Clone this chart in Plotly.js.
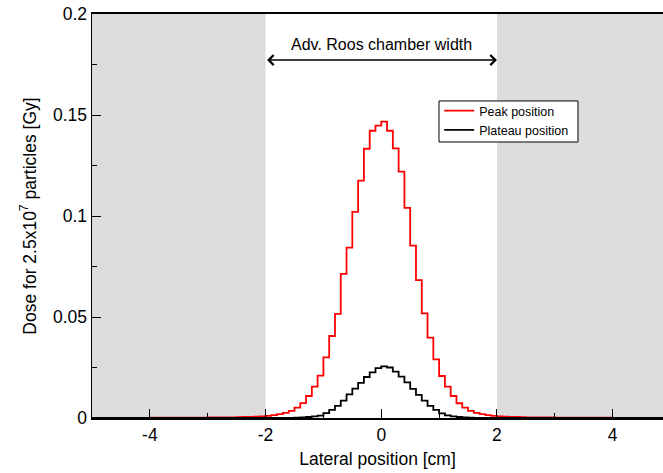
<!DOCTYPE html>
<html>
<head>
<meta charset="utf-8">
<script src="https://cdn.plot.ly/plotly-3.0.1.min.js"></script>
<style>html,body{margin:0;padding:0;background:#fff;}#chart{width:663px;height:473px;}</style>
</head>
<body>
<div id="chart"></div>
<script>
// Histogram binning (cm)
const binStart = -5.0;
const binWidth = 0.1;
const chamberEdges = [-2, 2];

// Tick labels (hyphen minus as in the reference)
const xTickVals = [-4, -2, 0, 2, 4];
const xTickText = ["-4", "-2", "0", "2", "4"];

// Dose per 0.1 cm bin, from x = -5.0 to 5.0 (left edges -5.0 ... 4.9)
const peakDose = [
  0.0001,0.0001,0.0001,0.0001,0.0001,0.0001,0.0001,0.0001,0.0001,0.0001,
  0.0002,0.0002,0.0002,0.0002,0.0002,0.0002,0.0002,0.0002,0.0002,0.0002,
  0.0003,0.0003,0.0003,0.0003,0.0003,0.0004,0.0005,0.0006,0.0007,0.0008,
  0.0011,0.0014,0.0019,0.0025,0.0035,0.0051,0.0074,0.0109,0.0155,0.0210,
  0.0300,0.0406,0.0515,0.0713,0.0843,0.1020,0.1175,0.1333,0.1422,0.1447,
  0.1467,0.1422,0.1335,0.1220,0.1040,0.0853,0.0683,0.0518,0.0398,0.0290,
  0.0208,0.0155,0.0109,0.0073,0.0051,0.0035,0.0025,0.0019,0.0014,0.0011,
  0.0008,0.0007,0.0006,0.0005,0.0004,0.0003,0.0003,0.0003,0.0003,0.0003,
  0.0002,0.0002,0.0002,0.0002,0.0002,0.0002,0.0002,0.0002,0.0002,0.0002,
  0.0001,0.0001,0.0001,0.0001,0.0001,0.0001,0.0001,0.0001,0.0001,0.0001
];
const plateauDose = [
  0,0,0,0,0,0,0,0,0,0,
  0,0,0,0,0,0,0,0,0,0,
  0,0,0,0,0,0,0,0,0,0,
  0.0001,0.0001,0.0001,0.0001,0.0001,0.0002,0.0003,0.0005,0.0008,0.0012,
  0.0024,0.0040,0.0060,0.0086,0.0117,0.0145,0.0174,0.0203,0.0226,0.0247,
  0.0256,0.0250,0.0230,0.0205,0.0176,0.0144,0.0114,0.0086,0.0060,0.0040,
  0.0023,0.0013,0.0008,0.0005,0.0003,0.0002,0.0001,0.0001,0.0001,0.0001,
  0,0,0,0,0,0,0,0,0,0,
  0,0,0,0,0,0,0,0,0,0,
  0,0,0,0,0,0,0,0,0,0
];
const seriesNames = ["Peak position", "Plateau position"];
const seriesColors = ["#ff0000", "#000000"];

function edges(n) {
  const e = [];
  for (let i = 0; i <= n; i++) e.push(Math.round((binStart + i * binWidth) * 10) / 10);
  return e;
}
function stepY(v) { return v.concat([v[v.length - 1]]); }

const FONT = "Liberation Sans, Arial, Helvetica, sans-serif";

const traces = [peakDose, plateauDose].map((v, k) => ({
  type: "scatter",
  mode: "lines",
  name: seriesNames[k],
  x: edges(v.length),
  y: stepY(v),
  line: {shape: "hv", color: seriesColors[k], width: 1.8}
}));

const layout = {
  width: 663, height: 473,
  margin: {l: 92, r: 0, t: 14, b: 55},
  paper_bgcolor: "#ffffff",
  plot_bgcolor: "#ffffff",
  font: {family: FONT, color: "#000", size: 17.5},
  showlegend: true,
  xaxis: {
    range: [-5, 4.87],
    tickmode: "array", tickvals: xTickVals, ticktext: xTickText,
    ticks: "inside", ticklen: 9, tickwidth: 1, tickcolor: "#000",
    minor: {dtick: 1, tick0: 0, ticks: "inside", ticklen: 5, tickwidth: 1, tickcolor: "#000"},
    showline: true, linecolor: "#000", linewidth: 1.8, mirror: true,
    showgrid: false, zeroline: false,
    tickfont: {size: 17.5},
    title: {text: "Lateral position [cm]", font: {size: 17.5}, standoff: 9}
  },
  yaxis: {
    range: [0, 0.2],
    tick0: 0, dtick: 0.05,
    ticks: "inside", ticklen: 9, tickwidth: 1, tickcolor: "#000",
    minor: {dtick: 0.025, ticks: "inside", ticklen: 5, tickwidth: 1, tickcolor: "#000"},
    showline: true, linecolor: "#000", linewidth: 1.5,
    showgrid: false, zeroline: false,
    tickfont: {size: 17.5},
    title: {text: "Dose for 2.5x10<sup>7</sup> particles [Gy]", font: {size: 17.5}, standoff: 12}
  },
  legend: {
    x: 0.608, y: 0.797, xanchor: "left", yanchor: "top",
    bgcolor: "rgba(0,0,0,0)", borderwidth: 0,
    font: {size: 12.5}, tracegroupgap: 0, itemwidth: 30
  },
  shapes: [
    {type: "rect", xref: "x", yref: "paper", x0: binStart, x1: chamberEdges[0], y0: 0, y1: 1,
     fillcolor: "#dcdcdc", line: {width: 0}, layer: "below"},
    {type: "rect", xref: "x", yref: "paper", x0: chamberEdges[1], x1: -binStart, y0: 0, y1: 1,
     fillcolor: "#dcdcdc", line: {width: 0}, layer: "below"},
    // legend frame
    {type: "rect", xref: "paper", yref: "paper", x0: 0.6077, x1: 0.8511, y0: 0.6832, y1: 0.7847,
     fillcolor: "#ffffff", line: {color: "#000", width: 1}, layer: "above"}
  ],
  annotations: [
    {x: chamberEdges[1], y: 0.1772, ax: chamberEdges[0], ay: 0.1772, xref: "x", yref: "y",
     axref: "x", ayref: "y", text: "", showarrow: true, arrowside: "end+start",
     arrowhead: 4, startarrowhead: 4, arrowsize: 1.4, startarrowsize: 1.4, arrowwidth: 1.4, arrowcolor: "#000",
     standoff: 0, startstandoff: 0},
    {x: (chamberEdges[0] + chamberEdges[1]) / 2, y: 0.1851, xref: "x", yref: "y",
     text: "Adv. Roos chamber width", showarrow: false, font: {size: 16, color: "#000"}}
  ]
};

Plotly.newPlot("chart", traces, layout, {displayModeBar: false, staticPlot: true});
</script>
</body>
</html>
